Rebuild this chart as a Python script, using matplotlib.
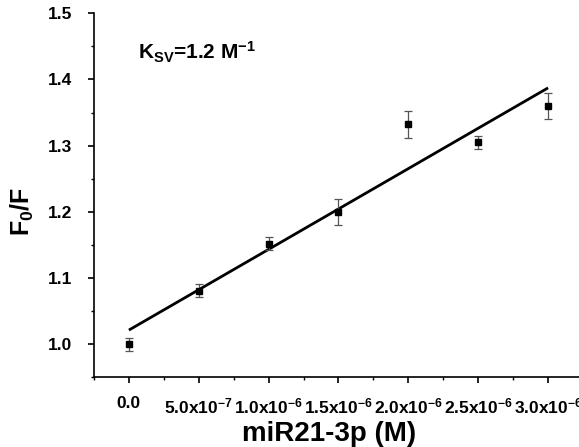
import numpy as np
import matplotlib
matplotlib.use('Agg')
import matplotlib.pyplot as plt
from matplotlib.ticker import FixedLocator, MultipleLocator, FixedFormatter

# data
conc = [0.0, 5.0e-7, 1.0e-6, 1.5e-6, 2.0e-6, 2.5e-6, 3.0e-6]
f0_f = [1.000, 1.081, 1.152, 1.200, 1.332, 1.305, 1.360]
f0_f_err = [0.010, 0.010, 0.010, 0.020, 0.020, 0.010, 0.020]

xtick_pos = [0.0, 5.0e-7, 1.0e-6, 1.5e-6, 2.0e-6, 2.5e-6, 3.0e-6]
xtick_lbl = ['0.0', '5.0x10$^{-7}$', '1.0x10$^{-6}$', '1.5x10$^{-6}$',
             '2.0x10$^{-6}$', '2.5x10$^{-6}$', '3.0x10$^{-6}$']
ytick_pos = [1.0, 1.1, 1.2, 1.3, 1.4, 1.5]

plt.rcParams['font.family'] = ['Liberation Sans', 'DejaVu Sans']
plt.rcParams['font.weight'] = 'bold'
plt.rcParams['mathtext.fontset'] = 'custom'
plt.rcParams['mathtext.rm'] = 'Liberation Sans:bold'
plt.rcParams['mathtext.it'] = 'Liberation Sans:bold'
plt.rcParams['mathtext.bf'] = 'Liberation Sans:bold'
plt.rcParams['mathtext.default'] = 'rm'

fig = plt.figure(figsize=(5.79, 4.47), dpi=100)
ax = fig.add_axes([0.1623, 0.156, 0.8446, 0.8143])

# linear Stern-Volmer fit
slope, icpt = np.polyfit(conc, f0_f, 1)
fit_x = np.array([conc[0], conc[-1]])
ax.plot(fit_x, slope * fit_x + icpt, color='black', lw=2.0, solid_capstyle='butt', zorder=2)

ax.errorbar(conc, f0_f, yerr=f0_f_err, fmt='s', color='black', ms=5,
            ecolor='#555555', elinewidth=0.9, capsize=3, capthick=0.9, zorder=3)

ax.set_xlim(-2.5e-7, 3.25e-6)
ax.set_ylim(0.95, 1.5)

ax.xaxis.set_major_locator(FixedLocator(xtick_pos))
ax.xaxis.set_major_formatter(FixedFormatter(xtick_lbl))
ax.xaxis.set_minor_locator(MultipleLocator(2.5e-7))
ax.yaxis.set_major_locator(FixedLocator(ytick_pos))
ax.yaxis.set_minor_locator(MultipleLocator(0.05))

for side in ['top', 'right']:
    ax.spines[side].set_visible(False)
for side in ['left', 'bottom']:
    ax.spines[side].set_linewidth(1.2)

ax.tick_params(axis='both', which='major', direction='out', length=4.5, width=1.2, labelsize=12.5)
ax.tick_params(axis='both', which='minor', direction='out', length=2.5, width=1.0)
ax.tick_params(axis='x', which='major', pad=9)
ax.tick_params(axis='y', which='major', pad=11)

fig.text(22 / 579, 1 - 211 / 447, 'F$_0$/F', fontsize=18, fontweight='bold',
         rotation=90, ha='center', va='center')
fig.text(329 / 579, 1 - 441 / 447, 'miR21-3p (M)', fontsize=20, fontweight='bold',
         ha='center', va='baseline')

ax.text(6.4e-8, 1.43, 'K$_{SV}$=1.2 M$^{-1}$', fontsize=15, fontweight='bold', va='baseline')

fig.savefig('out.png', dpi=100)
